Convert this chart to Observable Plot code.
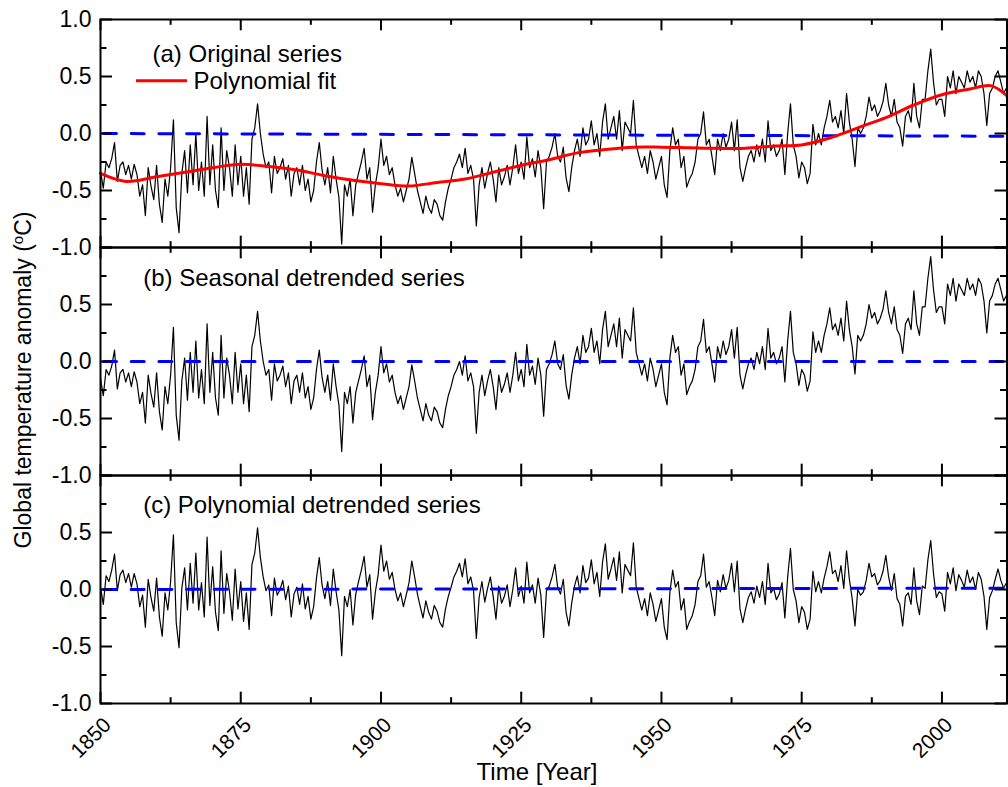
<!DOCTYPE html>
<html><head><meta charset="utf-8">
<script src="https://cdn.jsdelivr.net/npm/d3@7"></script>
<script src="https://cdn.jsdelivr.net/npm/@observablehq/plot@0.6"></script>
<style>
html,body{margin:0;padding:0;background:#fff;}
#chart{width:1008px;height:787px;}
</style></head><body><div id="chart"></div>
<script>
// ---- data (half-year steps starting 1850.0) ----
const startYear = 1850;
const stepYears = 0.5;
const endYear = 2011.6;

const original = [
-0.33,-0.48,-0.25,-0.30,-0.22,-0.08,-0.42,-0.28,-0.25,-0.36,-0.28,-0.40,-0.27,-0.36,-0.55,-0.45,-0.72,-0.30,-0.46,-0.58,
-0.28,-0.62,-0.78,-0.40,-0.55,-0.30,0.12,-0.65,-0.87,-0.35,-0.15,-0.52,-0.10,-0.45,0.00,-0.50,-0.25,-0.55,0.15,-0.45,
-0.10,-0.50,-0.65,0.05,-0.50,-0.15,-0.30,-0.55,-0.10,-0.45,-0.20,-0.55,-0.30,-0.62,-0.05,0.05,0.26,0.00,-0.18,-0.30,
-0.25,-0.52,-0.20,-0.35,-0.30,-0.22,-0.40,-0.28,-0.55,-0.35,-0.30,-0.45,-0.28,-0.50,-0.40,-0.60,-0.50,-0.25,-0.08,-0.32,
-0.45,-0.30,-0.52,-0.20,-0.40,-0.56,-0.97,-0.45,-0.55,-0.40,-0.72,-0.45,-0.35,-0.25,-0.13,-0.40,-0.30,-0.69,-0.45,-0.30,
-0.05,-0.28,-0.20,-0.36,-0.30,-0.45,-0.55,-0.48,-0.60,-0.50,-0.40,-0.21,-0.35,-0.50,-0.60,-0.70,-0.55,-0.65,-0.70,-0.58,
-0.62,-0.72,-0.76,-0.60,-0.48,-0.40,-0.30,-0.25,-0.18,-0.30,-0.13,-0.35,-0.28,-0.40,-0.81,-0.45,-0.30,-0.48,-0.35,-0.25,
-0.40,-0.60,-0.30,-0.45,-0.38,-0.28,-0.45,-0.30,-0.10,-0.35,-0.25,-0.40,-0.03,-0.30,-0.22,-0.38,-0.15,-0.30,-0.66,-0.25,
-0.20,-0.12,0.00,-0.20,-0.25,-0.12,-0.39,-0.51,-0.30,-0.15,-0.05,-0.20,0.05,-0.10,-0.05,0.11,-0.10,0.00,-0.20,0.10,
0.26,-0.05,0.05,0.15,-0.05,0.20,-0.15,0.10,0.05,0.00,0.29,-0.10,-0.20,-0.30,-0.20,-0.35,-0.15,-0.25,-0.40,-0.30,
-0.20,-0.45,-0.56,-0.15,0.05,-0.10,-0.05,-0.30,-0.20,-0.47,-0.40,-0.35,-0.25,-0.05,0.00,0.19,-0.10,-0.05,-0.20,-0.36,
-0.05,-0.15,0.00,-0.12,-0.05,0.10,-0.15,0.12,-0.30,-0.42,-0.30,-0.20,-0.15,-0.25,-0.10,-0.20,-0.05,-0.25,0.11,-0.15,
-0.10,-0.20,-0.15,-0.05,-0.36,0.00,0.26,-0.10,-0.20,-0.39,-0.25,-0.30,-0.44,-0.35,0.08,-0.10,0.00,-0.10,0.05,0.15,
0.29,0.10,0.15,0.05,0.20,0.00,0.35,0.10,-0.05,-0.29,0.05,0.00,0.05,0.15,0.32,0.20,0.25,0.15,0.20,0.28,
0.44,0.25,0.15,0.30,0.10,0.05,-0.11,0.15,0.20,0.10,0.44,0.15,0.05,0.30,0.30,0.55,0.74,0.45,0.25,0.30,
0.30,0.15,0.50,0.40,0.55,0.35,0.50,0.45,0.40,0.55,0.45,0.50,0.40,0.55,0.50,0.35,0.07,0.35,0.40,0.50,
0.55,0.45,0.35,0.40
];

const seasonal = [
-0.15,-0.30,-0.07,-0.12,-0.04,0.10,-0.24,-0.10,-0.07,-0.18,-0.10,-0.22,-0.09,-0.18,-0.37,-0.27,-0.54,-0.12,-0.28,-0.40,
-0.10,-0.44,-0.60,-0.22,-0.37,-0.12,0.30,-0.47,-0.69,-0.17,0.03,-0.34,0.08,-0.27,0.18,-0.32,-0.07,-0.37,0.33,-0.27,
0.08,-0.32,-0.47,0.23,-0.32,0.03,-0.12,-0.37,0.08,-0.27,-0.02,-0.37,-0.12,-0.44,0.13,0.23,0.44,0.18,0.00,-0.12,
-0.07,-0.34,-0.02,-0.17,-0.12,-0.04,-0.22,-0.10,-0.37,-0.17,-0.12,-0.27,-0.10,-0.32,-0.22,-0.42,-0.32,-0.07,0.10,-0.14,
-0.27,-0.12,-0.34,-0.02,-0.22,-0.38,-0.79,-0.27,-0.37,-0.22,-0.54,-0.27,-0.17,-0.07,0.05,-0.22,-0.12,-0.51,-0.27,-0.12,
0.13,-0.10,-0.02,-0.18,-0.12,-0.27,-0.37,-0.30,-0.42,-0.32,-0.22,-0.03,-0.17,-0.32,-0.42,-0.52,-0.37,-0.47,-0.52,-0.40,
-0.44,-0.54,-0.58,-0.42,-0.30,-0.22,-0.12,-0.07,0.00,-0.12,0.05,-0.17,-0.10,-0.22,-0.63,-0.27,-0.12,-0.30,-0.17,-0.07,
-0.22,-0.42,-0.12,-0.27,-0.20,-0.10,-0.27,-0.12,0.08,-0.17,-0.07,-0.22,0.15,-0.12,-0.04,-0.20,0.03,-0.12,-0.48,-0.07,
-0.02,0.06,0.18,-0.02,-0.07,0.06,-0.21,-0.33,-0.12,0.03,0.13,-0.02,0.23,0.08,0.13,0.29,0.08,0.18,-0.02,0.28,
0.44,0.13,0.23,0.33,0.13,0.38,0.03,0.28,0.23,0.18,0.47,0.08,-0.02,-0.12,-0.02,-0.17,0.03,-0.07,-0.22,-0.12,
-0.02,-0.27,-0.38,0.03,0.23,0.08,0.13,-0.12,-0.02,-0.29,-0.22,-0.17,-0.07,0.13,0.18,0.37,0.08,0.13,-0.02,-0.18,
0.13,0.03,0.18,0.06,0.13,0.28,0.03,0.30,-0.12,-0.24,-0.12,-0.02,0.03,-0.07,0.08,-0.02,0.13,-0.07,0.29,0.03,
0.08,-0.02,0.03,0.13,-0.18,0.18,0.44,0.08,-0.02,-0.21,-0.07,-0.12,-0.26,-0.17,0.26,0.08,0.18,0.08,0.23,0.33,
0.47,0.28,0.33,0.23,0.38,0.18,0.53,0.28,0.13,-0.11,0.23,0.18,0.23,0.33,0.50,0.38,0.43,0.33,0.38,0.46,
0.62,0.43,0.33,0.48,0.28,0.23,0.07,0.33,0.38,0.28,0.62,0.33,0.23,0.48,0.48,0.73,0.92,0.63,0.43,0.48,
0.48,0.33,0.68,0.58,0.73,0.53,0.68,0.63,0.58,0.73,0.63,0.68,0.58,0.73,0.68,0.53,0.25,0.53,0.58,0.68,
0.73,0.63,0.53,0.58
];

const polyDetrended = [
0.02,-0.13,0.12,0.07,0.17,0.31,-0.01,0.13,0.17,0.06,0.14,0.02,0.14,0.05,-0.15,-0.05,-0.33,0.09,-0.07,-0.19,
0.10,-0.24,-0.41,-0.03,-0.18,0.07,0.48,-0.29,-0.51,0.01,0.19,-0.18,0.23,-0.12,0.32,-0.18,0.06,-0.24,0.46,-0.14,
0.20,-0.20,-0.36,0.34,-0.21,0.14,-0.02,-0.27,0.18,-0.17,0.07,-0.28,-0.03,-0.35,0.22,0.32,0.54,0.28,0.11,-0.01,
0.04,-0.23,0.10,-0.05,0.00,0.08,-0.09,0.03,-0.24,-0.04,0.02,-0.13,0.05,-0.17,-0.06,-0.26,-0.15,0.10,0.28,0.04,
-0.08,0.07,-0.14,0.18,-0.02,-0.18,-0.58,-0.06,-0.15,0.00,-0.31,-0.04,0.07,0.17,0.29,0.02,0.13,-0.26,-0.02,0.13,
0.39,0.16,0.25,0.09,0.15,0.00,-0.10,-0.03,-0.15,-0.05,0.06,0.25,0.11,-0.04,-0.15,-0.25,-0.10,-0.20,-0.26,-0.14,
-0.19,-0.29,-0.33,-0.17,-0.06,0.02,0.11,0.16,0.23,0.11,0.27,0.05,0.11,-0.01,-0.43,-0.07,0.07,-0.11,0.01,0.11,
-0.06,-0.26,0.03,-0.12,-0.06,0.04,-0.15,0.00,0.19,-0.06,0.03,-0.12,0.24,-0.03,0.04,-0.12,0.10,-0.05,-0.42,-0.01,
0.03,0.11,0.22,0.02,-0.04,0.09,-0.20,-0.32,-0.12,0.03,0.12,-0.03,0.21,0.06,0.10,0.26,0.05,0.15,-0.06,0.24,
0.40,0.09,0.18,0.28,0.08,0.33,-0.03,0.22,0.17,0.12,0.41,0.02,-0.08,-0.18,-0.08,-0.23,-0.03,-0.13,-0.28,-0.18,
-0.08,-0.33,-0.44,-0.03,0.17,0.02,0.07,-0.18,-0.08,-0.35,-0.28,-0.23,-0.13,0.07,0.12,0.31,0.02,0.07,-0.07,-0.23,
0.08,-0.02,0.13,0.01,0.08,0.23,-0.02,0.25,-0.17,-0.29,-0.17,-0.07,-0.02,-0.12,0.03,-0.07,0.07,-0.13,0.23,-0.03,
0.01,-0.09,-0.04,0.06,-0.25,0.11,0.36,0.00,-0.10,-0.29,-0.15,-0.20,-0.35,-0.26,0.16,-0.02,0.07,-0.03,0.10,0.20,
0.33,0.14,0.17,0.07,0.21,0.01,0.34,0.09,-0.08,-0.32,0.00,-0.05,-0.02,0.08,0.23,0.11,0.14,0.04,0.08,0.16,
0.30,0.11,-0.01,0.14,-0.08,-0.13,-0.32,-0.06,-0.03,-0.13,0.19,-0.10,-0.22,0.03,0.01,0.26,0.43,0.14,-0.07,-0.02,
-0.04,-0.19,0.15,0.05,0.19,-0.01,0.13,0.08,0.02,0.17,0.06,0.11,0.00,0.15,0.09,-0.06,-0.35,-0.07,-0.01,0.09,
0.18,0.08,0.01,0.06
];

const fitYears = [1850,1854.5,1860,1865,1870,1875,1880,1885,1890,1895,1900,1905,1910,1915,1920,1925,1930,1935,1940,1945,1950,1955,1960,1965,1970,1975,1980,1985,1990,1995,2000,2005,2008.7,2011.6];
const fitValues = [-0.35,-0.42,-0.38,-0.34,-0.30,-0.27,-0.29,-0.32,-0.37,-0.41,-0.44,-0.46,-0.43,-0.40,-0.34,-0.28,-0.23,-0.17,-0.14,-0.12,-0.12,-0.125,-0.13,-0.13,-0.11,-0.10,-0.04,0.05,0.14,0.25,0.34,0.39,0.42,0.33];

const zeroYears = [1850, 2011.6];
const zeroA = [0, -0.024];
const zeroB = [0, 0];
const zeroC = [0, 0.012];

const panels = ["a", "b", "c"];
const panelTitles = ["(a) Original series", "(b) Seasonal detrended series", "(c) Polynomial detrended series"];
const legendLabel = "Polynomial fit";
const xMajorTicks = [1850, 1875, 1900, 1925, 1950, 1975, 2000];
const xMinorTicks = [1862.5, 1887.5, 1912.5, 1937.5, 1962.5, 1987.5];
const yMajorTicks = [-1, -0.5, 0, 0.5, 1];
const yMinorTicks = [-0.75, -0.25, 0.25, 0.75];
const yLabelsA = [1, 0.5, 0, -0.5, -1];
const yLabelsB = [0.5, 0, -0.5, -1];
const yLabelsC = [0.5, 0, -0.5, -1];

// ---- tidy rows ----
const seriesRows = [];
[[original, "a"], [seasonal, "b"], [polyDetrended, "c"]].forEach(([vals, p]) => {
  vals.forEach((v, i) => seriesRows.push({panel: p, t: startYear + i * stepYears, v}));
});
const zeroRows = [];
[[zeroA, "a"], [zeroB, "b"], [zeroC, "c"]].forEach(([vals, p]) => {
  vals.forEach((v, i) => zeroRows.push({panel: p, t: zeroYears[i], v}));
});
const fitRows = fitYears.map((t, i) => ({panel: "a", t, v: fitValues[i]}));
const yLabelRows = [];
[[yLabelsA, "a"], [yLabelsB, "b"], [yLabelsC, "c"]].forEach(([vals, p]) => {
  vals.forEach(v => yLabelRows.push({panel: p, v}));
});

// ---- layout ----
const W = 1008, H = 787, ML = 100, MR = 1.5, MT = 18, MB = 83;
const plotW = W - ML - MR;
const facetH = (H - MT - MB) / 3;
const font = "'Liberation Sans', Arial, Helvetica, sans-serif";

const chart = Plot.plot({
  width: W, height: H,
  marginLeft: ML, marginRight: MR, marginTop: MT, marginBottom: MB,
  style: {fontFamily: font, background: "white", color: "black", overflow: "visible"},
  x: {domain: [startYear, endYear], axis: null},
  y: {domain: [-1, 1], axis: null},
  fy: {domain: panels, padding: 0, axis: null, label: null},
  marks: [
    Plot.line(seriesRows, {x: "t", y: "v", fy: "panel", stroke: "black", strokeWidth: 1.2}),
    Plot.line(zeroRows, {x: "t", y: "v", fy: "panel", stroke: "#0000ff", strokeWidth: 3, strokeDasharray: "13,14.7", strokeDashoffset: -3}),
    Plot.line(fitRows, {x: "t", y: "v", fy: "panel", stroke: "#ff0000", strokeWidth: 3, curve: "catmull-rom"}),
    // y ticks (inward), left and right
    Plot.tickY(yMajorTicks, {y: d => d, insetRight: plotW - 12, strokeWidth: 2}),
    Plot.tickY(yMinorTicks, {y: d => d, insetRight: plotW - 6.5, strokeWidth: 2}),
    Plot.tickY(yMajorTicks, {y: d => d, insetLeft: plotW - 12, strokeWidth: 2}),
    Plot.tickY(yMinorTicks, {y: d => d, insetLeft: plotW - 6.5, strokeWidth: 2}),
    // x ticks (inward), top and bottom of each panel
    Plot.tickX(xMajorTicks, {x: d => d, insetBottom: facetH - 12, strokeWidth: 2}),
    Plot.tickX(xMinorTicks, {x: d => d, insetBottom: facetH - 6.5, strokeWidth: 2}),
    Plot.tickX(xMajorTicks, {x: d => d, insetTop: facetH - 12, strokeWidth: 2}),
    Plot.tickX(xMinorTicks, {x: d => d, insetTop: facetH - 6.5, strokeWidth: 2}),
    Plot.frame({strokeWidth: 2}),
    // y tick labels
    Plot.text(yLabelRows, {fy: "panel", y: "v", text: d => d.v.toFixed(1), frameAnchor: "left", textAnchor: "end", dx: -9, fontSize: 23, fill: "black"}),
    // x tick labels (bottom panel)
    Plot.text(xMajorTicks, {x: d => d, fy: () => "c", text: d => String(d), frameAnchor: "bottom", rotate: -45, textAnchor: "end", lineAnchor: "middle", dx: 7, dy: 18, fontSize: 21, fill: "black"}),
    // panel titles
    Plot.text([panelTitles[0]], {fy: () => "a", text: d => d, frameAnchor: "top-left", textAnchor: "start", lineAnchor: "bottom", dx: 52, dy: 42, fontSize: 24, fill: "black"}),
    Plot.text([panelTitles[1]], {fy: () => "b", text: d => d, frameAnchor: "top-left", textAnchor: "start", lineAnchor: "bottom", dx: 42.7, dy: 38.3, fontSize: 24, fill: "black"}),
    Plot.text([panelTitles[2]], {fy: () => "c", text: d => d, frameAnchor: "top-left", textAnchor: "start", lineAnchor: "bottom", dx: 42.7, dy: 37.7, fontSize: 24, fill: "black"}),
    // legend label for the fit
    Plot.text([legendLabel], {fy: () => "a", text: d => d, frameAnchor: "top-left", textAnchor: "start", lineAnchor: "bottom", dx: 93, dy: 69, fontSize: 24, fill: "black"})
  ]
});

document.getElementById("chart").appendChild(chart);

// ---- legend swatch and axis titles ----
const svg = d3.select(chart);
svg.append("line").attr("x1", 136).attr("x2", 187).attr("y1", 80.7).attr("y2", 80.7)
  .attr("stroke", "#ff0000").attr("stroke-width", 3);

const yl = svg.append("text").attr("transform", "translate(31,380) rotate(-90)")
  .attr("text-anchor", "middle").attr("font-size", 23).attr("font-family", font).attr("fill", "black");
yl.append("tspan").text("Global temperature anomaly (");
yl.append("tspan").attr("dy", -8).attr("font-size", 15).text("o");
yl.append("tspan").attr("dy", 8).text("C)");

svg.append("text").attr("x", 537).attr("y", 780).attr("text-anchor", "middle").attr("font-size", 24)
  .attr("font-family", font).attr("fill", "black").text("Time [Year]");
</script>
</body></html>
